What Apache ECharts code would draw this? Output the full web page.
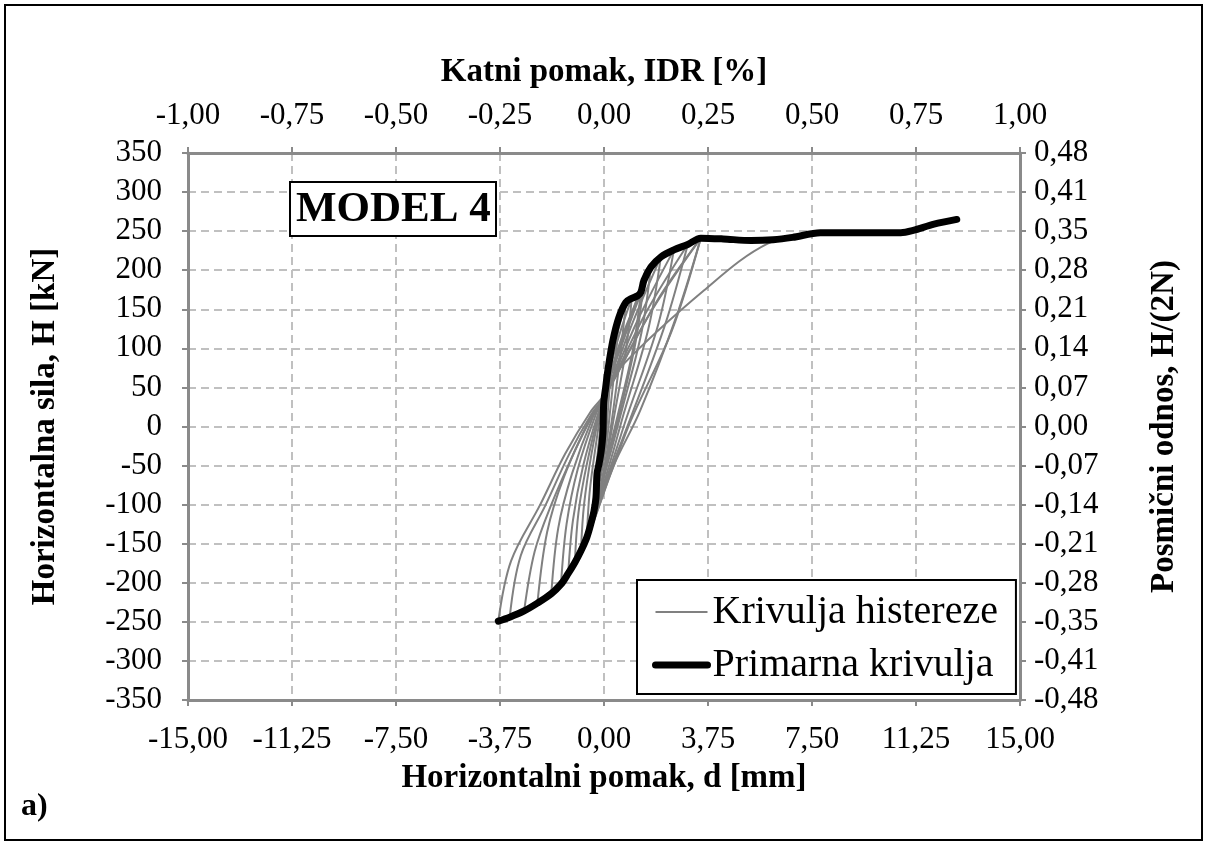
<!DOCTYPE html>
<html>
<head>
<meta charset="utf-8">
<script src="https://cdn.jsdelivr.net/npm/echarts@6/dist/echarts.min.js"></script>
<style>
  html, body { margin: 0; padding: 0; background: #fff; }
  #chart { width: 1208px; height: 846px; }
</style>
</head>
<body>
<div id="chart"></div>
<script>
// Tick labels (displacement in mm, drift in %, shear ratio H/(2N))
const bottomTicks = ['-15,00', '-11,25', '-7,50', '-3,75', '0,00', '3,75', '7,50', '11,25', '15,00'];
const topTicks = ['-1,00', '-0,75', '-0,50', '-0,25', '0,00', '0,25', '0,50', '0,75', '1,00'];
const leftTicks = ['-350', '-300', '-250', '-200', '-150', '-100', '-50', '0', '50', '100', '150', '200', '250', '300', '350'];
const rightTicks = ['-0,48', '-0,41', '-0,35', '-0,28', '-0,21', '-0,14', '-0,07', '0,00', '0,07', '0,14', '0,21', '0,28', '0,35', '0,41', '0,48'];

// Primary (envelope) curve: displacement d [mm] and force H [kN]
const primaryD = [-3.81, -3.4, -2.88, -2.4, -1.9, -1.55, -1.29, -1.05, -0.83, -0.62, -0.47, -0.36, -0.29, -0.25, -0.18, -0.1, -0.04, -0.01, 0.06, 0.14, 0.32, 0.54, 0.79, 1.0, 1.2, 1.33, 1.44, 1.69, 2.05, 2.52, 3.02, 3.49, 4.3, 5.3, 6.1, 6.8, 7.8, 9.0, 10.7, 11.15, 11.9, 12.72];
const primaryH = [-249, -244, -236, -226, -214, -202, -188, -174, -159, -142, -124, -108, -91, -60, -48, -31, -9, 30, 50, 72, 110, 140, 159, 164, 167, 172, 187, 204, 217, 226, 233, 241, 240, 238, 239, 242, 248, 248, 248, 251, 259, 265];

// Hysteresis record, one branch per list: [d, H]
const loops = [
  [[0, 0], [0.05, 30], [0.14, 72]],
  [[0.14, 72], [0.08, 20], [0.02, -10], [-0.1, -31]],
  [[-0.1, -31], [-0.06, 0], [0, 30], [0.15, 65], [0.32, 110]],
  [[0.32, 110], [0.22, 60], [0.12, 10], [0.02, -30], [-0.12, -50], [-0.25, -60]],
  [[-0.25, -60], [-0.18, -20], [-0.05, 15], [0.05, 40], [0.3, 95], [0.54, 140]],
  [[0.54, 140], [0.4, 80], [0.22, 20], [0.08, -25], [-0.15, -70], [-0.36, -108]],
  [[-0.36, -108], [-0.3, -60], [-0.15, -10], [0, 35], [0.35, 100], [0.79, 159]],
  [[0.79, 159], [0.6, 95], [0.35, 25], [0.12, -30], [-0.2, -90], [-0.62, -142]],
  [[-0.62, -142], [-0.52, -85], [-0.3, -25], [-0.05, 30], [0.45, 105], [1.0, 164]],
  [[1.0, 164], [0.8, 100], [0.4, 20], [0.12, -35], [-0.3, -105], [-0.83, -159]],
  [[-0.83, -159], [-0.72, -100], [-0.45, -35], [-0.1, 25], [0.6, 110], [1.33, 172]],
  [[1.33, 172], [1.05, 100], [0.5, 15], [0.12, -40], [-0.45, -125], [-1.05, -174]],
  [[-1.05, -174], [-0.92, -110], [-0.6, -45], [-0.15, 20], [0.7, 115], [1.44, 187]],
  [[1.44, 187], [1.15, 110], [0.55, 15], [0.12, -42], [-0.55, -140], [-1.29, -188]],
  [[-1.29, -188], [-1.12, -120], [-0.75, -50], [-0.2, 18], [0.8, 120], [1.69, 204]],
  [[1.69, 204], [1.35, 120], [0.6, 15], [0.15, -45], [-0.7, -150], [-1.55, -202]],
  [[-1.55, -202], [-1.35, -125], [-0.95, -55], [-0.3, 15], [0.05, 40], [1.0, 130], [2.05, 217]],
  [[2.05, 217], [1.6, 125], [0.7, 15], [0.2, -48], [-0.85, -165], [-1.9, -214]],
  [[-1.9, -214], [-1.65, -130], [-1.15, -60], [-0.4, 12], [0.05, 40], [1.2, 135], [2.52, 226]],
  [[2.52, 226], [1.95, 130], [0.85, 15], [0.25, -50], [-0.6, -135], [-1.4, -190], [-2.4, -226]],
  [[-2.4, -226], [-2.05, -135], [-1.45, -65], [-0.5, 10], [0.05, 40], [1.5, 145], [3.02, 233]],
  [[3.02, 233], [2.2, 130], [0.95, 10], [0.3, -50], [-0.7, -145], [-1.7, -205], [-2.88, -236]],
  [[-2.88, -236], [-2.5, -160], [-1.9, -100], [-1.1, -35], [-0.4, 15], [0.05, 40], [1.75, 150], [3.49, 241]],
  [[3.49, 241], [2.45, 123], [0.97, 8], [0.3, -55], [-0.8, -155], [-2.0, -215], [-3.4, -244]],
  [[-3.4, -244], [-3.0, -165], [-2.1, -100], [-1.25, -35], [-0.45, 16], [0.05, 40], [1.9, 160], [3.49, 241]],
  [[3.49, 241], [2.6, 140], [1.3, 20], [0.35, -50], [-0.9, -165], [-2.3, -222], [-3.81, -249]],
  [[-3.81, -249], [-3.35, -172], [-2.3, -100], [-1.4, -35], [-0.5, 18], [0.05, 42], [0.6, 76], [3.6, 174], [5.9, 234], [7.8, 248], [9.0, 248], [10.7, 248], [11.15, 251], [11.9, 259.5], [12.72, 265.5]]
];

const FONT = 'Liberation Serif';
const AXIS_GREY = '#8a8a8a';

const chart = echarts.init(document.getElementById('chart'), null, { renderer: 'canvas' });

const hystSeries = loops.map(branch => ({
  name: 'Krivulja histereze',
  type: 'line',
  xAxisIndex: 0,
  yAxisIndex: 0,
  data: branch,
  smooth: 0.35,
  symbol: 'none',
  lineStyle: { color: '#808080', width: 2 },
  itemStyle: { color: '#808080' },
  z: 3,
  silent: true
}));

const primarySeries = {
  name: 'Primarna krivulja',
  type: 'line',
  xAxisIndex: 0,
  yAxisIndex: 0,
  data: primaryD.map((d, i) => [d, primaryH[i]]),
  smooth: 0.3,
  symbol: 'none',
  lineStyle: { color: '#000', width: 7, cap: 'round', join: 'round' },
  itemStyle: { color: '#000' },
  z: 5,
  silent: true
};

const dashed = { show: true, lineStyle: { color: '#c0c0c0', width: 2, type: [8, 5] } };
const axisLine = { show: true, onZero: false, lineStyle: { color: AXIS_GREY, width: 3 } };
const axisTick = { show: true, length: 6, lineStyle: { color: AXIS_GREY, width: 2 } };
const labelBase = { color: '#000', fontFamily: FONT, fontSize: 31 };
const nameBase = { color: '#000', fontFamily: FONT, fontSize: 33, fontWeight: 'bold' };

chart.setOption({
  animation: false,
  backgroundColor: '#fff',
  grid: { left: 188, right: 188, top: 153, bottom: 146, containLabel: false },
  title: [
    {
      text: 'MODEL 4',
      left: 290, top: 182,
      padding: [4, 6, 3, 6],
      borderColor: '#000', borderWidth: 2,
      backgroundColor: '#fff',
      textStyle: { fontFamily: FONT, fontSize: 43, fontWeight: 'bold', color: '#000', lineHeight: 47 }
    },
    {
      text: 'a)',
      left: 16, top: 786,
      textStyle: { fontFamily: FONT, fontSize: 32, fontWeight: 'bold', color: '#000' }
    }
  ],
  legend: {
    data: [
      { name: 'Krivulja histereze', itemStyle: { opacity: 0 }, lineStyle: { width: 2, color: '#808080' } },
      { name: 'Primarna krivulja', itemStyle: { opacity: 0 }, lineStyle: { width: 7, color: '#000' } }
    ],
    orient: 'vertical',
    left: 637, top: 580,
    padding: [11, 18, 8, 15],
    itemWidth: 52, itemHeight: 14, itemGap: 11,
    borderColor: '#000', borderWidth: 2,
    backgroundColor: '#fff',
    selectedMode: false,
    textStyle: { fontFamily: FONT, fontSize: 40, color: '#000', lineHeight: 42 }
  },
  xAxis: [
    {
      type: 'value', position: 'bottom',
      min: -15, max: 15, interval: 3.75,
      name: 'Horizontalni pomak, d [mm]', nameLocation: 'middle', nameGap: 62,
      nameTextStyle: nameBase,
      axisLine, axisTick,
      axisLabel: { ...labelBase, margin: 24, formatter: (v, i) => bottomTicks[i] },
      splitLine: dashed
    },
    {
      type: 'value', position: 'top',
      min: -15, max: 15, interval: 3.75,
      name: 'Katni pomak, IDR [%]', nameLocation: 'middle', nameGap: 64,
      nameTextStyle: nameBase,
      axisLine, axisTick,
      axisLabel: { ...labelBase, margin: 22, formatter: (v, i) => topTicks[i] },
      splitLine: { show: false }
    }
  ],
  yAxis: [
    {
      type: 'value', position: 'left',
      min: -350, max: 350, interval: 50,
      name: 'Horizontalna sila, H [kN]', nameLocation: 'middle', nameGap: 126,
      nameTextStyle: nameBase,
      axisLine, axisTick,
      axisLabel: { ...labelBase, margin: 26, formatter: (v, i) => leftTicks[i] },
      splitLine: dashed
    },
    {
      type: 'value', position: 'right',
      min: -350, max: 350, interval: 50,
      name: 'Posmični odnos, H/(2N)', nameLocation: 'middle', nameGap: 128,
      nameTextStyle: nameBase,
      axisLine, axisTick,
      axisLabel: { ...labelBase, margin: 14, formatter: (v, i) => rightTicks[i] },
      splitLine: { show: false }
    }
  ],
  graphic: [
    {
      type: 'rect',
      shape: { x: 5, y: 5, width: 1197, height: 835 },
      style: { fill: 'none', stroke: '#000', lineWidth: 2 },
      silent: true, z: 100
    }
  ],
  series: [...hystSeries, primarySeries]
});
</script>
</body>
</html>
